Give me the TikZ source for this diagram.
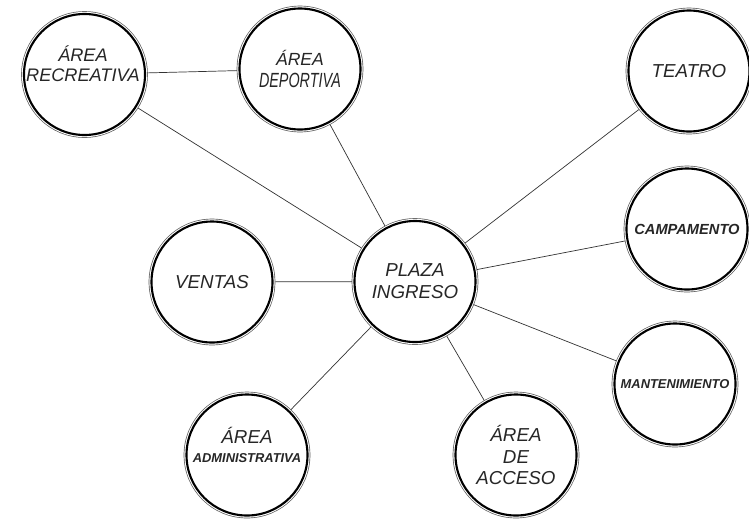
\documentclass[tikz,border=0pt]{standalone}
\usepackage{fontspec}
\setsansfont{Liberation Sans}
\newfontfamily\estrecha{Liberation Sans}[FakeStretch=0.7]
\usepackage{tikz}
\usetikzlibrary{calc}

\newcommand{\tam}[2]{\fontsize{#1}{#2}\selectfont}

\begin{document}
\begin{tikzpicture}[x=0.03cm, y=-0.03cm, line join=round, line cap=round,
    zona/.style={circle, minimum size=3.63cm, inner sep=0pt, outer sep=2.4pt,
        preaction={draw=black!65, line width=4.8pt},
        preaction={draw=white, line width=3.6pt},
        fill=white, draw=black, line width=1.8pt,
        align=center, text=black!85, font=\sffamily\itshape\tam{16}{19}},
    rotulo/.style={align=center, text=black!85, font=\sffamily\itshape#1},
    enlace/.style={draw=black!80, line width=0.6pt}]
    \useasboundingbox (0,0) rectangle (749,519);

    % Zonas
    \node[zona] (rec) at (84.5,74.5) {};
    \node[rotulo=\tam{15.5}{17}] (recT) at (83,63.5) {ÁREA\\RECREATIVA};
    \node[zona, font=\sffamily\itshape\tam{15}{18}] (dep) at (300,69) {ÁREA\\{\estrecha\itshape\tam{17.5}{18}DEPORTIVA}};
    \node[zona] (tea) at (689,71) {TEATRO};
    \node[zona, font=\sffamily\itshape\bfseries\tam{12.5}{14}] (cam) at (687,229) {CAMPAMENTO};
    \node[zona] (ven) at (212,282) {VENTAS};
    \node[zona] (pla) at (415,281.5) {PLAZA\\INGRESO};
    \node[zona, font=\sffamily\itshape\bfseries\tam{11}{13}] (man) at (675,384) {MANTENIMIENTO};
    \node[zona] (adm) at (247,455) {};
    \node[rotulo=\tam{16}{16}] (admT) at (247,445) {ÁREA\\{\bfseries\tam{11}{12}ADMINISTRATIVA}};
    \node[zona, font=\sffamily\itshape\tam{16}{18.5}] (acc) at (516,455) {ÁREA\\DE\\ACCESO};

    % Enlaces
    \draw[enlace] (rec) -- (dep);
    \foreach \z in {rec, dep, tea, cam, ven, man, adm, acc}
        \draw[enlace] (\z) -- (pla);
\end{tikzpicture}
\end{document}
